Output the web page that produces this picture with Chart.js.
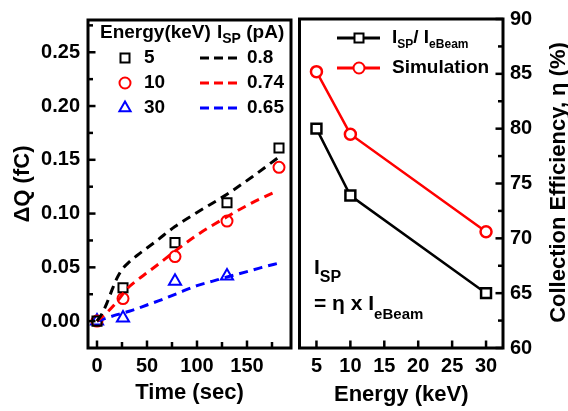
<!DOCTYPE html>
<html>
<head>
<meta charset="utf-8">
<script src="https://cdn.jsdelivr.net/npm/chart.js@4.4.0/dist/chart.umd.min.js"></script>
<style>
body { margin: 0; background: #fff; width: 568px; height: 411px; position: relative; overflow: hidden; }
canvas { position: absolute; top: 0; }
#graphic-charge { left: 0; }
#graphic-efficiency { left: 290px; }
</style>
</head>
<body>
<canvas id="graphic-charge" width="300" height="411"></canvas>
<canvas id="graphic-efficiency" width="278" height="411"></canvas>
<script>
// left panel: measured charge vs time
const timeSec = [0, 26, 78, 130, 182];
const dq5keV = [0, 0.031, 0.073, 0.110, 0.161];
const dq10keV = [0, 0.021, 0.060, 0.093, 0.143];
const dq30keV = [0, 0.003, 0.037, 0.042];

// dashed fits
const fitTime5 = [0, 5, 10, 15, 20, 25, 30, 40, 50, 60, 78, 100, 130, 155, 181];
const fitDq5 = [0, 0.007, 0.017, 0.029, 0.040, 0.048, 0.053, 0.061, 0.068, 0.075, 0.088, 0.101, 0.118, 0.134, 0.152];
const fitTime10 = [0, 10, 20, 30, 40, 50, 60, 78, 100, 130, 155, 180];
const fitDq10 = [0, 0.008, 0.018, 0.030, 0.038, 0.045, 0.052, 0.065, 0.080, 0.097, 0.110, 0.121];
const fitTime30 = [0, 10, 20, 35, 50, 65, 81, 100, 115, 130, 150, 165, 182];
const fitDq30 = [0, 0.003, 0.006, 0.010, 0.015, 0.020, 0.026, 0.033, 0.037, 0.041, 0.046, 0.050, 0.054];

const energyLabels = ['5', '10', '30'];
const ispLabels = ['0.8', '0.74', '0.65'];

// right panel: collection efficiency vs energy
const energyKeV = [5, 10, 30];
const ratioEff = [80, 73.9, 65];
const simEff = [85.2, 79.5, 70.6];

const timeTicks = [0, 25, 50, 75, 100, 125, 150, 175];
const dqTicks = [0, 0.025, 0.05, 0.075, 0.1, 0.125, 0.15, 0.175, 0.2, 0.225, 0.25, 0.275];
const energyTicks = [5, 10, 15, 20, 25, 30];
const effTicks = [60, 62.5, 65, 67.5, 70, 72.5, 75, 77.5, 80, 82.5, 85, 87.5, 90];

const FONT = '"Liberation Sans", Arial, sans-serif';

function pts(xs, ys) {
    return ys.map((y, i) => ({ x: xs[i], y: y }));
}

function subText(ctx, x, y, parts, size, subSize, shift) {
    parts.forEach(p => {
        ctx.font = 'bold ' + (p[1] ? subSize : size) + 'px ' + FONT;
        ctx.fillText(p[0], x, p[1] ? y + shift : y);
        x += ctx.measureText(p[0]).width;
    });
}

function marker(ctx, style, x, y, color, fill) {
    ctx.save();
    ctx.strokeStyle = color;
    ctx.fillStyle = fill;
    ctx.lineWidth = 2;
    ctx.beginPath();
    if (style === 'rect') {
        ctx.rect(x - 4.5, y - 4.5, 9, 9);
    } else if (style === 'circle') {
        ctx.arc(x, y, 5.5, 0, Math.PI * 2);
    } else {
        ctx.moveTo(x, y - 6.5);
        ctx.lineTo(x + 5.6, y + 3.3);
        ctx.lineTo(x - 5.6, y + 3.3);
        ctx.closePath();
    }
    ctx.fill();
    ctx.stroke();
    ctx.restore();
}

// box round the plot plus inward tick marks (long at labelled values)
function makeFrame(xTicks, yTicks, yOnRight, xMajor, yMajor) {
    return {
        id: 'frame',
        afterDraw(chart) {
            const ctx = chart.ctx;
            const a = chart.chartArea;
            const sx = chart.scales.x;
            const sy = chart.scales.y;
            ctx.save();
            ctx.setLineDash([]);
            ctx.strokeStyle = '#000';
            ctx.lineWidth = 2.5;
            xTicks.forEach(v => {
                const px = sx.getPixelForValue(v);
                const len = xMajor(v) ? 7.5 : 6;
                ctx.beginPath();
                ctx.moveTo(px, a.bottom);
                ctx.lineTo(px, a.bottom - len);
                ctx.stroke();
            });
            yTicks.forEach(v => {
                const py = sy.getPixelForValue(v);
                const len = yMajor(v) ? 7.5 : 5;
                const ex = yOnRight ? a.right : a.left;
                ctx.beginPath();
                ctx.moveTo(ex, py);
                ctx.lineTo(yOnRight ? ex - len : ex + len, py);
                ctx.stroke();
            });
            ctx.lineWidth = 3;
            ctx.strokeRect(a.left, a.top, a.right - a.left, a.bottom - a.top);
            ctx.restore();
        }
    };
}

const chargeLegend = {
    id: 'chargeLegend',
    afterDraw(chart) {
        const ctx = chart.ctx;
        ctx.save();
        ctx.fillStyle = '#000';
        ctx.textBaseline = 'middle';
        ctx.textAlign = 'left';
        subText(ctx, 100, 33, [['Energy(keV)', false]], 19, 13, 6);
        subText(ctx, 217, 33, [['I', false], ['SP', true], [' (pA)', false]], 19, 14, 6);
        const styles = ['rect', 'circle', 'triangle'];
        const colors = ['#000', '#ff0000', '#0000ff'];
        for (let i = 0; i < 3; i++) {
            const y = 58 + i * 25;
            marker(ctx, styles[i], 125, y, colors[i], 'rgba(0,0,0,0)');
            ctx.fillStyle = '#000';
            ctx.font = 'bold 19px ' + FONT;
            ctx.fillText(energyLabels[i], 144, y);
            ctx.fillText(ispLabels[i], 247, y);
            ctx.strokeStyle = colors[i];
            ctx.lineWidth = 3;
            ctx.setLineDash([9, 5]);
            ctx.beginPath();
            ctx.moveTo(200, y);
            ctx.lineTo(240, y);
            ctx.stroke();
            ctx.setLineDash([]);
        }
        ctx.restore();
    }
};

const effDecor = {
    id: 'effDecor',
    afterDraw(chart) {
        const ctx = chart.ctx;
        ctx.save();
        ctx.fillStyle = '#000';
        ctx.textBaseline = 'middle';
        ctx.textAlign = 'left';
        const rows = [
            { y: 38, color: '#000', style: 'rect', parts: [['I', false], ['SP', true], ['/ I', false], ['eBeam', true]] },
            { y: 68, color: '#ff0000', style: 'circle', parts: [['Simulation', false]] }
        ];
        rows.forEach(r => {
            ctx.strokeStyle = r.color;
            ctx.lineWidth = 3;
            ctx.beginPath();
            ctx.moveTo(47, r.y);
            ctx.lineTo(90, r.y);
            ctx.stroke();
            marker(ctx, r.style, 69, r.y, r.color, '#fff');
            ctx.fillStyle = '#000';
            subText(ctx, 102, r.y, r.parts, 19, 12, 7);
        });
        subText(ctx, 24, 268, [['I', false], ['SP', true]], 21, 16, 10);
        subText(ctx, 24, 304, [['= \u03b7 x I', false], ['eBeam', true]], 21, 15, 11);
        ctx.font = 'bold 22px ' + FONT;
        ctx.textAlign = 'center';
        ctx.translate(269, 182.5);
        ctx.rotate(-Math.PI / 2);
        ctx.fillText('Collection Efficiency, \u03b7 (%)', 0, 0);
        ctx.restore();
    }
};

const noGrid = { display: false, drawTicks: false, drawOnChartArea: false };
const tickFont = { family: FONT, size: 20, weight: 'bold' };
const titleFont = { family: FONT, size: 22, weight: 'bold' };

new Chart(document.getElementById('graphic-charge'), {
    type: 'scatter',
    data: {
        datasets: [
            {
                data: pts(fitTime5, fitDq5), showLine: true, pointRadius: 0,
                borderColor: '#000', borderWidth: 3, borderDash: [9, 6], cubicInterpolationMode: 'monotone'
            },
            {
                data: pts(fitTime10, fitDq10), showLine: true, pointRadius: 0,
                borderColor: '#ff0000', borderWidth: 3, borderDash: [9, 6], cubicInterpolationMode: 'monotone'
            },
            {
                data: pts(fitTime30, fitDq30), showLine: true, pointRadius: 0,
                borderColor: '#0000ff', borderWidth: 3, borderDash: [9, 6], cubicInterpolationMode: 'monotone'
            },
            {
                data: pts(timeSec, dq5keV), pointStyle: 'rect', pointRadius: 6.4,
                borderColor: '#000', backgroundColor: 'rgba(0,0,0,0)', borderWidth: 2
            },
            {
                data: pts(timeSec, dq10keV), pointStyle: 'circle', pointRadius: 5.5,
                borderColor: '#ff0000', backgroundColor: 'rgba(0,0,0,0)', borderWidth: 2
            },
            {
                data: pts(timeSec, dq30keV), pointStyle: 'triangle', pointRadius: 7,
                borderColor: '#0000ff', backgroundColor: 'rgba(0,0,0,0)', borderWidth: 2
            }
        ]
    },
    options: {
        responsive: false,
        animation: false,
        layout: { padding: { top: 17, right: 5, left: 0, bottom: 0 } },
        plugins: { legend: { display: false }, tooltip: { enabled: false } },
        scales: {
            x: {
                type: 'linear', min: -9, max: 194,
                afterBuildTicks: s => { s.ticks = timeTicks.map(v => ({ value: v })); },
                afterFit: s => { s.height = 63; },
                grid: noGrid,
                border: { display: false },
                ticks: {
                    autoSkip: false, maxRotation: 0, padding: 6, color: '#000', font: tickFont,
                    callback: v => (v % 50 === 0 ? String(v) : '')
                },
                title: { display: true, text: 'Time (sec)', color: '#000', font: titleFont, padding: { top: 0, bottom: 5 } }
            },
            y: {
                type: 'linear', min: -0.025, max: 0.28,
                afterBuildTicks: s => { s.ticks = dqTicks.map(v => ({ value: v })); },
                afterFit: s => { s.width = 88; },
                grid: noGrid,
                border: { display: false },
                ticks: {
                    autoSkip: false, padding: 8, color: '#000', font: tickFont,
                    callback: v => (Math.round(v * 1000) % 50 === 0 ? v.toFixed(2) : '')
                },
                title: { display: true, text: '\u0394Q (fC)', color: '#000', font: titleFont, padding: { top: 10, bottom: 0 } }
            }
        }
    },
    plugins: [
        makeFrame(timeTicks, dqTicks, false, v => v % 50 === 0, v => Math.round(v * 1000) % 50 === 0),
        chargeLegend
    ]
});

new Chart(document.getElementById('graphic-efficiency'), {
    type: 'scatter',
    data: {
        datasets: [
            {
                data: pts(energyKeV, ratioEff), showLine: true, pointStyle: 'rect', pointRadius: 7,
                borderColor: '#000', backgroundColor: '#fff', borderWidth: 2.5
            },
            {
                data: pts(energyKeV, simEff), showLine: true, pointStyle: 'circle', pointRadius: 5.5,
                borderColor: '#ff0000', backgroundColor: '#fff', borderWidth: 2.5
            }
        ]
    },
    options: {
        responsive: false,
        animation: false,
        layout: { padding: { top: 17, right: 0, left: 5, bottom: 0 } },
        plugins: { legend: { display: false }, tooltip: { enabled: false } },
        scales: {
            x: {
                type: 'linear', min: 2.5, max: 32.5,
                afterBuildTicks: s => { s.ticks = energyTicks.map(v => ({ value: v })); },
                afterFit: s => { s.height = 63; },
                grid: noGrid,
                border: { display: false },
                ticks: { autoSkip: false, maxRotation: 0, padding: 6, color: '#000', font: tickFont },
                title: { display: true, text: 'Energy (keV)', color: '#000', font: titleFont, padding: { top: 0, bottom: 3 } }
            },
            y: {
                type: 'linear', position: 'right', min: 60, max: 90,
                afterBuildTicks: s => { s.ticks = effTicks.map(v => ({ value: v })); },
                afterFit: s => { s.width = 65; },
                grid: noGrid,
                border: { display: false },
                ticks: {
                    autoSkip: false, padding: 7, color: '#000', font: tickFont,
                    callback: v => (v % 5 === 0 ? String(v) : '')
                }
            }
        }
    },
    plugins: [makeFrame(energyTicks, effTicks, true, v => true, v => v % 5 === 0), effDecor]
});
</script>
</body>
</html>
